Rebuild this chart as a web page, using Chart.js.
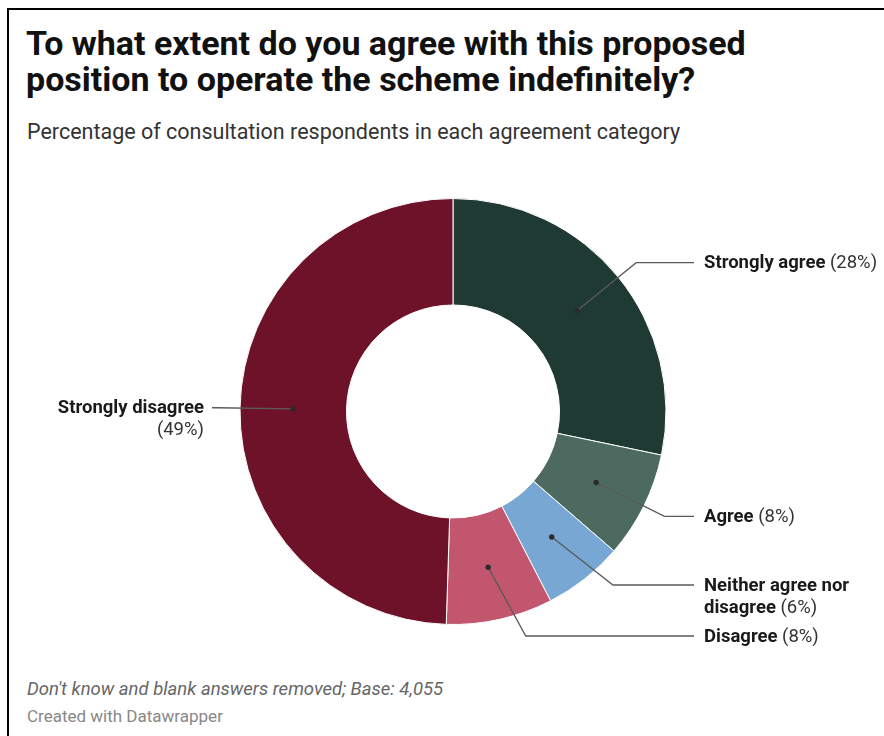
<!DOCTYPE html>
<html>
<head>
<meta charset="utf-8">
<script src="https://cdn.jsdelivr.net/npm/chart.js@4.4.1/dist/chart.umd.min.js"></script>
<style>
    html, body { margin: 0; padding: 0; background: #fff; }
    body { width: 884px; height: 736px; position: relative; overflow: hidden; font-family: Roboto, "Noto Sans", sans-serif; }
    .frame { position: absolute; left: 7px; top: 8px; right: -4px; bottom: -4px; border-left: 2px solid #000; border-top: 2px solid #000; }
    .title { position: absolute; left: 26px; top: 25px; font-size: 34px; line-height: 36px; font-weight: 700; color: #111; white-space: nowrap; }
    .subtitle { position: absolute; left: 27px; top: 120px; font-size: 21.5px; line-height: 24px; color: #333; white-space: nowrap; }
    .notes { position: absolute; left: 27px; top: 678px; font-size: 18.5px; line-height: 22px; font-style: italic; color: #666; white-space: nowrap; }
    .byline { position: absolute; left: 27px; top: 706px; font-size: 17px; line-height: 20px; color: #888; white-space: nowrap; }
    #chartBox { position: absolute; left: 0; top: 180px; width: 884px; height: 480px; }
</style>
</head>
<body>
<div class="frame"></div>
<div class="title">To what extent do you agree with this proposed<br>position to operate the scheme indefinitely?</div>
<div class="subtitle">Percentage of consultation respondents in each agreement category</div>
<div id="chartBox"><canvas id="donut"></canvas></div>
<div class="notes">Don't know and blank answers removed; Base: 4,055</div>
<div class="byline">Created with Datawrapper</div>
<script>
// chart data
const categories = ['Strongly agree', 'Agree', 'Neither agree nor disagree', 'Disagree', 'Strongly disagree'];
const shares = [28, 8, 6, 8, 49];
const colours = ['#1f3a33', '#4d6a61', '#79a7d4', '#c2566f', '#6e1229'];

// label layout
const FONT = 'Roboto, "Noto Sans", sans-serif';
const LABEL_SIZE = 18.5;
const LINE_H = 22;
const ELBOW_GAP = 23;       // elbow sits this far outside the ring
const COLUMN_OFFSET = 241;  // label column distance from the centre
const MIN_STEP = 29;        // minimal spacing between labels on one side

/**
 * Split label into lines of bold name + regular value, wrapped by width.
 */
function wrapLabel(ctx, name, value, maxWidth) {
    const words = name.split(' ').map((t) => ({t, bold: true}));
    words.push({t: value, bold: false});
    const lines = [];
    let line = [];
    let width = 0;
    for (const w of words) {
        ctx.font = `${w.bold ? 700 : 400} ${LABEL_SIZE}px ${FONT}`;
        const ww = ctx.measureText(w.t).width;
        ctx.font = `400 ${LABEL_SIZE}px ${FONT}`;
        const sp = line.length ? ctx.measureText(' ').width : 0;
        if (line.length && width + sp + ww > maxWidth) {
            lines.push(line);
            line = [];
            width = 0;
        }
        line.push({...w, width: ww});
        width += (line.length > 1 ? sp : 0) + ww;
    }
    if (line.length) lines.push(line);
    return lines;
}

function lineWidth(ctx, line) {
    ctx.font = `400 ${LABEL_SIZE}px ${FONT}`;
    const sp = ctx.measureText(' ').width;
    return line.reduce((s, w) => s + w.width, 0) + sp * (line.length - 1);
}

const leaderLabels = {
    id: 'leaderLabels',
    afterDatasetsDraw(chart) {
        const ctx = chart.ctx;
        const arcs = chart.getDatasetMeta(0).data;
        const area = chart.chartArea;
        const items = arcs.map((arc, i) => {
            const {x, y, startAngle, endAngle, innerRadius, outerRadius} = arc.getProps(
                ['x', 'y', 'startAngle', 'endAngle', 'innerRadius', 'outerRadius'], true);
            const mid = (startAngle + endAngle) / 2;
            const rDot = (innerRadius + outerRadius) / 2;
            const rElbow = outerRadius + ELBOW_GAP;
            const right = Math.cos(mid) >= 0;
            const maxWidth = right ? 182 : 165;
            const lines = wrapLabel(ctx, categories[i], `(${shares[i]}%)`, maxWidth);
            return {
                cx: x, cy: y, rElbow, right, lines,
                dotX: x + Math.cos(mid) * rDot,
                dotY: y + Math.sin(mid) * rDot,
                labelY: y + Math.sin(mid) * rElbow,
            };
        });

        // keep labels on each side apart and inside the plot
        const maxY = area.bottom + 11;
        const minY = area.top;
        for (const side of [true, false]) {
            const list = items.filter((it) => it.right === side).sort((a, b) => a.labelY - b.labelY);
            for (let k = 1; k < list.length; k++) {
                const need = list[k - 1].labelY + (list[k - 1].lines.length - 1) * LINE_H + MIN_STEP;
                if (list[k].labelY < need) list[k].labelY = need;
            }
            if (list.length) {
                const last = list[list.length - 1];
                const lim = maxY - (last.lines.length - 1) * LINE_H;
                if (last.labelY > lim) last.labelY = lim;
            }
            for (let k = list.length - 1; k > 0; k--) {
                const lim = list[k].labelY - (list[k - 1].lines.length - 1) * LINE_H - MIN_STEP;
                if (list[k - 1].labelY > lim) list[k - 1].labelY = lim;
            }
            if (list.length && list[0].labelY < minY) list[0].labelY = minY;
        }

        ctx.save();
        for (const it of items) {
            const dy = it.labelY - it.cy;
            const dx = Math.sqrt(Math.max(it.rElbow * it.rElbow - dy * dy, 0));
            const elbowX = it.cx + (it.right ? dx : -dx);
            const endX = it.cx + (it.right ? COLUMN_OFFSET : -COLUMN_OFFSET);

            // leader line
            ctx.strokeStyle = '#5a5a5a';
            ctx.lineWidth = 1.3;
            ctx.beginPath();
            ctx.moveTo(it.dotX, it.dotY);
            ctx.lineTo(elbowX, it.labelY);
            ctx.lineTo(endX, it.labelY);
            ctx.stroke();
            ctx.fillStyle = '#2b2b2b';
            ctx.beginPath();
            ctx.arc(it.dotX, it.dotY, 2.7, 0, Math.PI * 2);
            ctx.fill();

            // label text
            ctx.textBaseline = 'middle';
            ctx.textAlign = 'left';
            it.lines.forEach((line, n) => {
                const ly = it.labelY + n * LINE_H + 1;
                let tx = it.right ? endX + 10 : endX - 8 - lineWidth(ctx, line);
                ctx.font = `400 ${LABEL_SIZE}px ${FONT}`;
                const sp = ctx.measureText(' ').width;
                for (const w of line) {
                    ctx.font = `${w.bold ? 700 : 400} ${LABEL_SIZE}px ${FONT}`;
                    ctx.fillStyle = w.bold ? '#1a1a1a' : '#333333';
                    ctx.fillText(w.t, tx, ly);
                    tx += w.width + sp;
                }
            });
        }
        ctx.restore();
    }
};

new Chart(document.getElementById('donut'), {
    type: 'doughnut',
    data: {
        labels: categories,
        datasets: [{
            data: shares,
            backgroundColor: colours,
            borderColor: '#ffffff',
            borderWidth: 1,
            hoverOffset: 0,
        }],
    },
    options: {
        responsive: true,
        maintainAspectRatio: false,
        animation: false,
        events: [],
        cutout: '50%',
        layout: {padding: {left: 22, right: 0, top: 18, bottom: 35}},
        plugins: {
            legend: {display: false},
            tooltip: {enabled: false},
        },
    },
    plugins: [leaderLabels],
});
</script>
</body>
</html>
